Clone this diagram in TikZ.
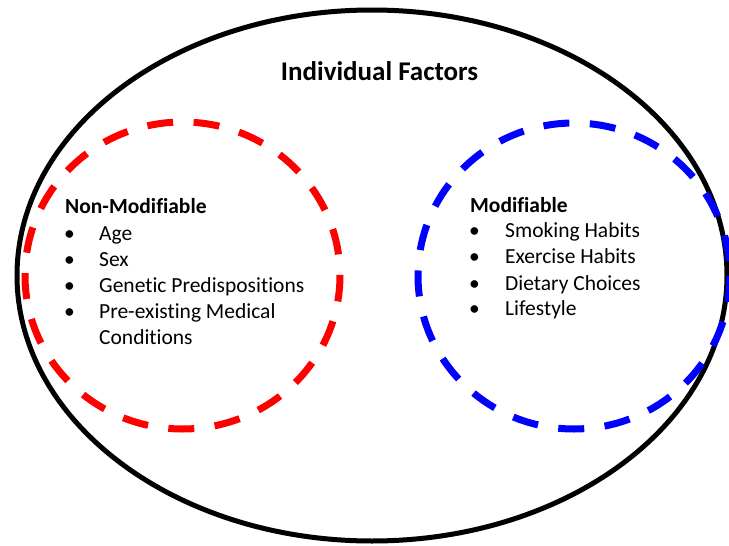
\documentclass[tikz,border=0pt]{standalone}
\usepackage{fontspec}
\setmainfont{Carlito}[RawFeature={-liga}]
\begin{document}
\begin{tikzpicture}[x=1pt,y=-1pt,
  outer/.style={draw=black,line width=5pt},
  group/.style={line width=7pt,dash pattern=on 26pt off 20.5pt},
  head/.style={anchor=base west,inner sep=0pt,font=\fontsize{21.5}{24}\selectfont\bfseries},
  item/.style={anchor=base west,inner sep=0pt,font=\fontsize{21.5}{24}\selectfont},
  title/.style={anchor=base,inner sep=0pt,font=\fontsize{27}{30}\selectfont\bfseries}]
\useasboundingbox (0,0) rectangle (729,546);
% outer boundary
\draw[outer] (372,275.5) ellipse [x radius=355, y radius=265.5];
% the two groups
\draw[group,red] (182.5,275.5) ellipse [x radius=157.5, y radius=153.5];
\draw[group,blue] (574,276) ellipse [x radius=156, y radius=153];
\node[title] (t) at (379.5,80) {Individual Factors};
% non-modifiable factors
\node[head] (nm) at (65,213) {Non-Modifiable};
\foreach \n/\y/\s in {a/240/Age, b/266/Sex, c/292/Genetic Predispositions, d/318/Pre-existing Medical}{
  \node[item] (nb\n) at (64,\y) {•};
  \node[item] (nt\n) at (99,\y) {\s};
}
\node[item] (nte) at (99,344) {Conditions};
% modifiable factors
\node[head] (m) at (470,212) {Modifiable};
\foreach \n/\y/\s in {a/237/Smoking Habits, b/263/Exercise Habits, c/290/Dietary Choices, d/315/Lifestyle}{
  \node[item] (mb\n) at (469,\y) {•};
  \node[item] (mt\n) at (505,\y) {\s};
}
\end{tikzpicture}
\end{document}
